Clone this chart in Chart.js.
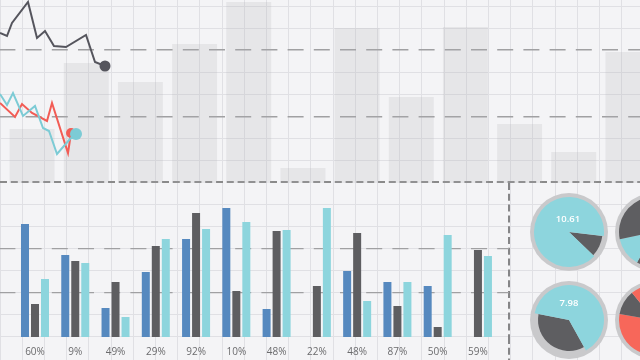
<!DOCTYPE html>
<html><head><meta charset="utf-8">
<script src="https://cdn.jsdelivr.net/npm/chart.js@4.4.0/dist/chart.umd.min.js"></script>
<style>
html,body{margin:0;padding:0;width:640px;height:360px;overflow:hidden;background:#f4f4f6;font-family:'Open Sans',sans-serif;}
canvas{position:absolute;display:block;}
.val{position:absolute;color:#fff;font:600 9.5px 'Open Sans',sans-serif;width:60px;text-align:center;line-height:13px;}
</style></head><body>
<canvas id="bg" width="640" height="360" style="left:0;top:0"></canvas>
<canvas id="tall" width="650" height="183" style="left:5px;top:0"></canvas>
<canvas id="lines" width="640" height="183" style="left:0;top:0"></canvas>
<canvas id="bars" width="512" height="177" style="left:0;top:183px"></canvas>
<canvas id="p1" width="78" height="78" style="left:530px;top:193px"></canvas>
<canvas id="p2" width="78" height="78" style="left:530px;top:281px"></canvas>
<canvas id="p3" width="78" height="78" style="left:615px;top:193px"></canvas>
<canvas id="p4" width="78" height="78" style="left:615px;top:281px"></canvas>
<div class="val" style="left:538px;top:212px">10.61</div>
<div class="val" style="left:539px;top:296px">7.98</div>
<script>
// ---- data ----
const gridXTicks = Array.from({length: 29}, (_, k) => 22.2 * k);
const gridYTicks = Array.from({length: 16}, (_, k) => 6 + 22.05 * k);
const dashedRows = [2, 5];
const heavyRow = 8;

const bgBarLabels = ['B1','B2','B3','B4','B5','B6','B7','B8','B9','B10','B11','B12'];
const bgBars = [54, 120, 101, 139, 181, 15, 155, 86, 156, 59, 31, 131];

const darkX = [0, 7, 12, 28, 37, 45, 54, 66, 86, 95, 105];
const darkY = [150, 147, 160, 181, 145, 152, 137, 136, 148, 121, 117];
const redX = [0, 15, 22, 32, 47, 52, 68, 71];
const redY = [80, 66, 79, 70, 62, 80, 30, 50];
const cyanX = [0, 7, 13, 23, 35, 43, 49, 57, 70, 76];
const cyanY = [89, 78, 90, 67, 77, 55, 52, 29, 44, 49];

const pctLabels = ['60%','9%','49%','29%','92%','10%','48%','22%','48%','87%','50%','59%'];
const blueVals = [113, 82, 29, 65, 98, 129, 28, null, 66, 55, 51, null];
const darkVals = [33, 76, 55, 91, 124, 46, 106, 51, 104, 31, 10, 87];
const cyanVals = [58, 74, 20, 98, 108, 115, 107, 129, 36, 55, 102, 81];
const barRefLines = [44.4, 88.5];

const pie1Radius = [33.5, 35], pie1Angle = [37, 323], pie1Start = 96.7;
const pie2Radius = [31, 35],   pie2Angle = [130, 230], pie2Start = 151;
const pie3Radius = [35, 35, 35, 35], pie3Angle = [29, 49, 192, 90], pie3Start = 180;
const pie4Radius = [35, 35, 35, 35], pie4Angle = [130, 41, 60, 129], pie4Start = 150;

// ---- colours ----
const C_DARK = '#5e5e61', C_CYAN = '#8dd5dd', C_BLUE = '#5689bf', C_RED = '#f7675a';
const LINE_DARK = '#55555d', LINE_RED = '#f25c55', LINE_CYAN = '#7ccbd5';

const base = {responsive:false, animation:false, events:[], layout:{padding:0, autoPadding:false},
  plugins:{legend:{display:false}, tooltip:{enabled:false}}};

// background grid
new Chart(document.getElementById('bg'), {
  type:'scatter', data:{datasets:[]},
  options:Object.assign({}, base, {
    scales:{
      x:{type:'linear', min:0, max:640, ticks:{display:false}, border:{display:false},
         grid:{color:'#e0e0e4', lineWidth:1, drawTicks:false},
         afterBuildTicks:s=>{s.ticks = gridXTicks.map(v=>({value:v}));}},
      y:{type:'linear', min:0, max:360, reverse:true, ticks:{display:false},
         border:{display:false,
           dash:c=> c.index===heavyRow ? [7,3.8] : (dashedRows.includes(c.index) ? [16,10.2] : []),
           dashOffset:c=> dashedRows.includes(c.index) ? 0.6 : 0},
         grid:{drawTicks:false,
           color:c=> c.index===heavyRow ? '#8a8a8a' : (dashedRows.includes(c.index) ? '#a0a0a2' : '#e0e0e4'),
           lineWidth:c=> c.index===heavyRow ? 2 : (dashedRows.includes(c.index) ? 1.4 : 1)},
         afterBuildTicks:s=>{s.ticks = gridYTicks.map(v=>({value:v}));}}
    }
  })
});

// faint tall bars
new Chart(document.getElementById('tall'), {
  type:'bar',
  data:{labels:bgBarLabels, datasets:[{data:bgBars, backgroundColor:'rgba(175,175,182,0.2)',
    barPercentage:0.83, categoryPercentage:1, borderWidth:0}]},
  options:Object.assign({}, base, {scales:{x:{display:false}, y:{display:false, min:0, max:183}}})
});

// trend lines
const toPts = (xs, ys) => xs.map((x, i) => ({x:x, y:ys[i]}));
const lastDot = r => c => c.dataIndex === c.dataset.data.length - 1 ? r : 0;
new Chart(document.getElementById('lines'), {
  type:'line',
  data:{datasets:[
    {data:toPts(cyanX, cyanY), borderColor:LINE_CYAN, backgroundColor:LINE_CYAN, borderWidth:2,
     pointRadius:lastDot(6), pointBorderWidth:0, tension:0, clip:false},
    {data:toPts(redX, redY), borderColor:LINE_RED, backgroundColor:LINE_RED, borderWidth:2,
     pointRadius:lastDot(5), pointBorderWidth:0, tension:0, clip:false},
    {data:toPts(darkX, darkY), borderColor:LINE_DARK, backgroundColor:LINE_DARK, borderWidth:2,
     pointRadius:lastDot(5.5), pointBorderWidth:0, tension:0, clip:false}
  ]},
  options:Object.assign({}, base, {scales:{
    x:{type:'linear', display:false, min:0, max:640},
    y:{type:'linear', display:false, min:0, max:183}}})
});

// grouped bars
new Chart(document.getElementById('bars'), {
  type:'bar',
  data:{labels:pctLabels.map((_, i) => i), datasets:[
    {data:blueVals, backgroundColor:C_BLUE, xAxisID:'x'},
    {data:darkVals, backgroundColor:C_DARK, xAxisID:'x'},
    {data:cyanVals, backgroundColor:C_CYAN, xAxisID:'x'}]},
  options:Object.assign({}, base, {
    layout:{padding:{right:3}, autoPadding:false},
    datasets:{bar:{barPercentage:0.8, categoryPercentage:0.745, borderWidth:0}},
    scales:{
      x:{type:'linear', position:'bottom', offset:false, min:-0.869, max:11.771,
         grid:{display:false, offset:false}, border:{display:false},
         afterBuildTicks:s=>{s.ticks = pctLabels.map((_, i) => ({value:i}));},
         ticks:{autoSkip:false, maxRotation:0, padding:1, color:'#6b6b6d',
                font:{family:'Open Sans', size:10}, callback:(v, i) => pctLabels[i]},
         afterFit:s=>{s.height = 23;}},
      x2:{type:'linear', position:'bottom', weight:-1, offset:false, min:0, max:1, ticks:{display:false},
          border:{display:false, dash:[7,3.8]},
          grid:{offset:false, color:'#858587', lineWidth:2, drawTicks:true, tickLength:23, tickBorderDash:[7,3.8]},
          afterBuildTicks:s=>{s.ticks = [{value:1}];},
          afterFit:s=>{s.height = 0;}},
      y:{min:0, max:154, ticks:{display:false}, border:{display:false, dash:[16,10.2], dashOffset:0.6},
         grid:{color:'#a0a0a2', lineWidth:1.3, drawTicks:false},
         afterBuildTicks:s=>{s.ticks = barRefLines.map(v=>({value:v}));}}
    }
  })
});

// pies
function makePie(id, radii, angles, colors, start) {
  new Chart(document.getElementById(id), {
    type:'polarArea',
    data:{labels:radii.map((_, i) => 'S' + (i + 1)), datasets:[{data:radii, angle:angles, backgroundColor:colors, borderWidth:0}]},
    options:Object.assign({}, base, {scales:{r:{min:0, max:39, startAngle:start, backgroundColor:'#c9c9cb',
      ticks:{display:false}, grid:{display:false}, angleLines:{display:false}, pointLabels:{display:false}}}})
  });
}
makePie('p1', pie1Radius, pie1Angle, [C_DARK, C_CYAN], pie1Start);
makePie('p2', pie2Radius, pie2Angle, [C_DARK, C_CYAN], pie2Start);
makePie('p3', pie3Radius, pie3Angle, [C_DARK, C_CYAN, C_DARK, C_CYAN], pie3Start);
makePie('p4', pie4Radius, pie4Angle, [C_RED, C_DARK, C_RED, C_DARK], pie4Start);
</script>
</body></html>
